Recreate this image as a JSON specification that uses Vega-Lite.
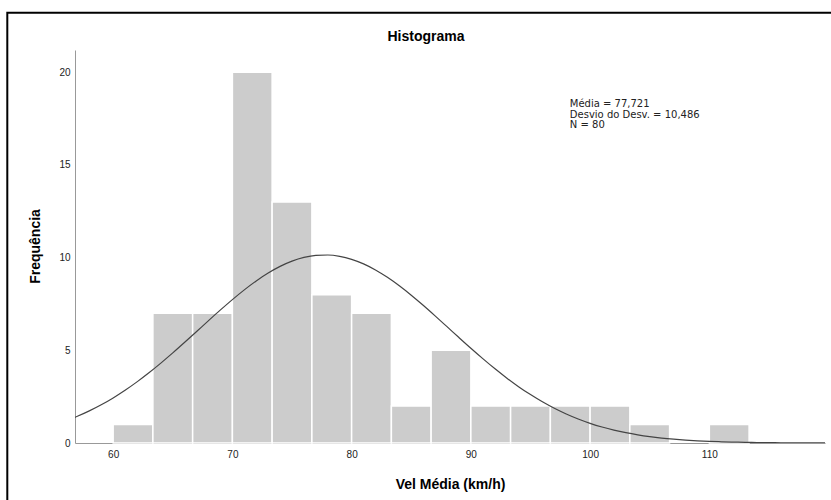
{
  "$schema": "https://vega.github.io/schema/vega-lite/v6.json",
  "width": 750,
  "height": 393,
  "autosize": {"type": "none"},
  "padding": {"left": 75, "top": 50, "right": 6, "bottom": 57},
  "background": "white",
  "config": {
    "view": {"stroke": null},
    "font": "Liberation Sans",
    "axis": {
      "grid": false,
      "ticks": false,
      "domainColor": "#999999",
      "domainWidth": 1,
      "labelFont": "Liberation Sans",
      "labelFontSize": 10,
      "labelColor": "#222222",
      "titleFont": "Liberation Sans",
      "titleFontSize": 14,
      "titleFontWeight": "bold",
      "titleColor": "#000000"
    }
  },
  "title": {
    "text": "Histograma",
    "font": "Liberation Sans",
    "fontSize": 14,
    "fontWeight": "bold",
    "color": "#000000",
    "anchor": "middle",
    "frame": "group",
    "dx": -24,
    "offset": -32
  },
  "datasets": {
    "bins": [
      {"bin_start": 60.0, "bin_end": 63.333, "count": 1},
      {"bin_start": 63.333, "bin_end": 66.667, "count": 7},
      {"bin_start": 66.667, "bin_end": 70.0, "count": 7},
      {"bin_start": 70.0, "bin_end": 73.333, "count": 20},
      {"bin_start": 73.333, "bin_end": 76.667, "count": 13},
      {"bin_start": 76.667, "bin_end": 80.0, "count": 8},
      {"bin_start": 80.0, "bin_end": 83.333, "count": 7},
      {"bin_start": 83.333, "bin_end": 86.667, "count": 2},
      {"bin_start": 86.667, "bin_end": 90.0, "count": 5},
      {"bin_start": 90.0, "bin_end": 93.333, "count": 2},
      {"bin_start": 93.333, "bin_end": 96.667, "count": 2},
      {"bin_start": 96.667, "bin_end": 100.0, "count": 2},
      {"bin_start": 100.0, "bin_end": 103.333, "count": 2},
      {"bin_start": 103.333, "bin_end": 106.667, "count": 1},
      {"bin_start": 110.0, "bin_end": 113.333, "count": 1}
    ],
    "curve": [
      {"vel": 56, "freq": 1.187},
      {"vel": 57, "freq": 1.440},
      {"vel": 58, "freq": 1.731},
      {"vel": 59, "freq": 2.061},
      {"vel": 60, "freq": 2.433},
      {"vel": 61, "freq": 2.845},
      {"vel": 62, "freq": 3.297},
      {"vel": 63, "freq": 3.787},
      {"vel": 64, "freq": 4.310},
      {"vel": 65, "freq": 4.860},
      {"vel": 66, "freq": 5.432},
      {"vel": 67, "freq": 6.015},
      {"vel": 68, "freq": 6.602},
      {"vel": 69, "freq": 7.179},
      {"vel": 70, "freq": 7.736},
      {"vel": 71, "freq": 8.261},
      {"vel": 72, "freq": 8.742},
      {"vel": 73, "freq": 9.167},
      {"vel": 74, "freq": 9.526},
      {"vel": 75, "freq": 9.809},
      {"vel": 76, "freq": 10.009},
      {"vel": 77, "freq": 10.121},
      {"vel": 78, "freq": 10.141},
      {"vel": 79, "freq": 10.070},
      {"vel": 80, "freq": 9.908},
      {"vel": 81, "freq": 9.661},
      {"vel": 82, "freq": 9.334},
      {"vel": 83, "freq": 8.937},
      {"vel": 84, "freq": 8.480},
      {"vel": 85, "freq": 7.973},
      {"vel": 86, "freq": 7.428},
      {"vel": 87, "freq": 6.858},
      {"vel": 88, "freq": 6.275},
      {"vel": 89, "freq": 5.689},
      {"vel": 90, "freq": 5.111},
      {"vel": 91, "freq": 4.550},
      {"vel": 92, "freq": 4.014},
      {"vel": 93, "freq": 3.509},
      {"vel": 94, "freq": 3.040},
      {"vel": 95, "freq": 2.610},
      {"vel": 96, "freq": 2.220},
      {"vel": 97, "freq": 1.871},
      {"vel": 98, "freq": 1.564},
      {"vel": 99, "freq": 1.294},
      {"vel": 100, "freq": 1.062},
      {"vel": 101, "freq": 0.863},
      {"vel": 102, "freq": 0.695},
      {"vel": 103, "freq": 0.555},
      {"vel": 104, "freq": 0.439},
      {"vel": 105, "freq": 0.344},
      {"vel": 106, "freq": 0.267},
      {"vel": 107, "freq": 0.206},
      {"vel": 108, "freq": 0.157},
      {"vel": 109, "freq": 0.119},
      {"vel": 110, "freq": 0.089},
      {"vel": 111, "freq": 0.066},
      {"vel": 112, "freq": 0.049},
      {"vel": 113, "freq": 0.035},
      {"vel": 114, "freq": 0.026},
      {"vel": 115, "freq": 0.018},
      {"vel": 116, "freq": 0.013},
      {"vel": 118, "freq": 0.006},
      {"vel": 120, "freq": 0.003}
    ]
  },
  "layer": [
    {
      "data": {"values": [{}]},
      "mark": {"type": "rect", "fillOpacity": 0, "stroke": "#000000", "strokeWidth": 2, "clip": false},
      "encoding": {
        "x": {"value": -67.7},
        "x2": {"value": 800},
        "y": {"value": -37.3},
        "y2": {"value": 480}
      }
    },
    {
      "data": {"name": "bins"},
      "mark": {"type": "rect", "fill": "#cccccc", "stroke": "#ffffff", "strokeWidth": 1.5},
      "encoding": {
        "x": {
          "field": "bin_start",
          "type": "quantitative",
          "scale": {"domain": [56.8, 119.7], "nice": false, "zero": false},
          "axis": {
            "values": [60, 70, 80, 90, 100, 110],
            "labelPadding": 6,
            "title": "Vel Média (km/h)",
            "titleY": 45,
            "titleBaseline": "alphabetic"
          }
        },
        "x2": {"field": "bin_end"},
        "y": {
          "field": "count",
          "type": "quantitative",
          "scale": {"domain": [0, 21.2], "nice": false},
          "axis": {
            "values": [0, 5, 10, 15, 20],
            "labelPadding": 5,
            "title": "Frequência",
            "titleX": -40,
            "titleY": 196,
            "titleBaseline": "middle"
          }
        },
        "y2": {"datum": 0}
      }
    },
    {
      "data": {"name": "curve"},
      "mark": {"type": "line", "color": "#444444", "strokeWidth": 1.2, "interpolate": "monotone", "clip": true},
      "encoding": {
        "x": {"field": "vel", "type": "quantitative"},
        "y": {"field": "freq", "type": "quantitative"}
      }
    },
    {
      "data": {"values": [{}]},
      "mark": {
        "type": "text",
        "align": "left",
        "baseline": "top",
        "font": "DejaVu Sans",
        "fontSize": 10,
        "lineHeight": 10.5,
        "color": "#222222",
        "text": ["Média = 77,721", "\u00a0Desvio do Desv. = 10,486", "N = 80"]
      },
      "encoding": {
        "x": {"datum": 98.3},
        "y": {"datum": 18.55}
      }
    }
  ]
}
